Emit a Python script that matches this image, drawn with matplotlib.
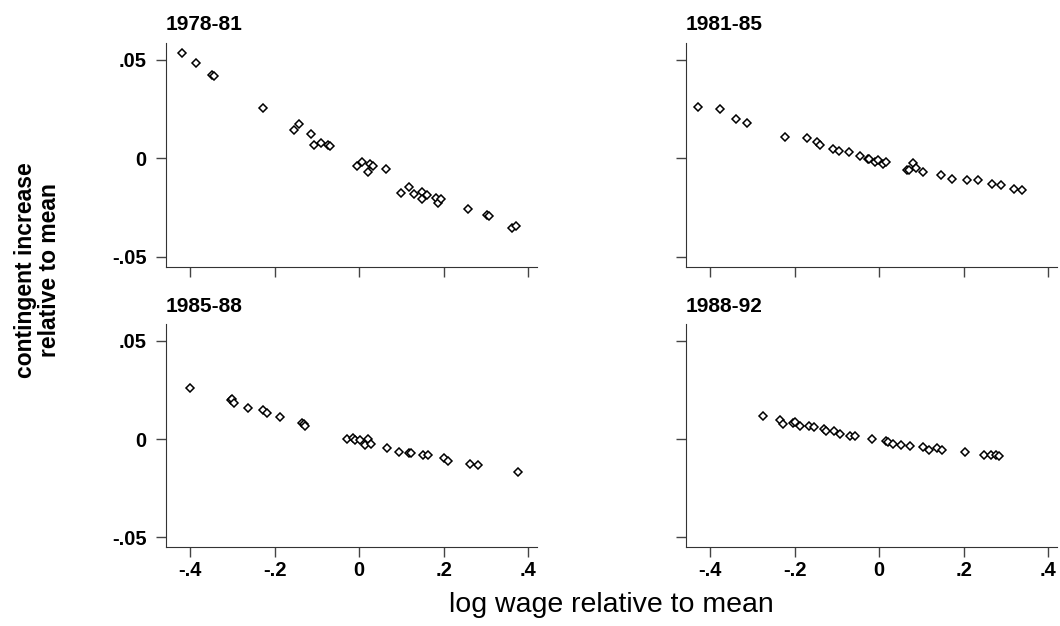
import matplotlib
matplotlib.use("Agg")
import matplotlib.pyplot as plt

# ============================================================
# Data
# ============================================================

PERIODS = ["1978-81", "1981-85", "1985-88", "1988-92"]

x_7881 = [-0.420, -0.387, -0.347, -0.344, -0.228, -0.154, -0.143, -0.113,
          -0.107, -0.089, -0.074, -0.070, -0.006, 0.006, 0.022, 0.025,
          0.032, 0.063, 0.098, 0.118, 0.131, 0.149, 0.150, 0.161,
          0.181, 0.186, 0.194, 0.257, 0.303, 0.307, 0.362, 0.372]
y_7881 = [0.0537, 0.0486, 0.0422, 0.0416, 0.0255, 0.0142, 0.0176, 0.0123,
          0.0068, 0.0078, 0.0068, 0.0064, -0.0037, -0.0019, -0.0071, -0.0030,
          -0.0041, -0.0054, -0.0176, -0.0144, -0.0179, -0.0172, -0.0206, -0.0186,
          -0.0203, -0.0225, -0.0206, -0.0257, -0.0287, -0.0294, -0.0355, -0.0341]

x_8185 = [-0.429, -0.377, -0.338, -0.312, -0.222, -0.170, -0.146, -0.141,
          -0.109, -0.095, -0.072, -0.046, -0.027, -0.025, -0.010, -0.002,
          0.010, 0.017, 0.067, 0.071, 0.081, 0.087, 0.104, 0.147,
          0.173, 0.208, 0.234, 0.266, 0.289, 0.319, 0.338]
y_8185 = [0.0263, 0.0253, 0.0198, 0.0181, 0.0110, 0.0102, 0.0085, 0.0068,
          0.0047, 0.0039, 0.0031, 0.0012, -0.0002, -0.0005, -0.0017, -0.0008,
          -0.0029, -0.0017, -0.0061, -0.0061, -0.0024, -0.0049, -0.0069, -0.0086,
          -0.0107, -0.0110, -0.0110, -0.0131, -0.0136, -0.0154, -0.0158]

x_8588 = [-0.400, -0.304, -0.301, -0.295, -0.264, -0.227, -0.217, -0.188,
          -0.136, -0.130, -0.128, -0.028, -0.015, -0.010, 0.001, 0.013,
          0.021, 0.029, 0.066, 0.095, 0.118, 0.123, 0.151, 0.163,
          0.202, 0.210, 0.263, 0.281, 0.375]
y_8588 = [0.0258, 0.0198, 0.0205, 0.0186, 0.0158, 0.0146, 0.0133, 0.0114,
          0.0084, 0.0074, 0.0064, 0.0002, 0.0003, -0.0007, -0.0007, -0.0029,
          0.0000, -0.0023, -0.0045, -0.0067, -0.0070, -0.0070, -0.0081, -0.0084,
          -0.0099, -0.0112, -0.0128, -0.0131, -0.0166]

x_8892 = [-0.274, -0.234, -0.228, -0.204, -0.199, -0.187, -0.165, -0.154,
          -0.130, -0.125, -0.108, -0.093, -0.069, -0.058, -0.016, 0.016,
          0.021, 0.032, 0.051, 0.073, 0.103, 0.117, 0.137, 0.148,
          0.204, 0.248, 0.264, 0.277, 0.283]
y_8892 = [0.0116, 0.0097, 0.0076, 0.0081, 0.0089, 0.0067, 0.0064, 0.0059,
          0.0049, 0.0040, 0.0040, 0.0023, 0.0017, 0.0017, 0.0002, -0.0010,
          -0.0013, -0.0023, -0.0029, -0.0035, -0.0042, -0.0054, -0.0047, -0.0055,
          -0.0067, -0.0082, -0.0082, -0.0084, -0.0089]

X_TICKS = [-0.4, -0.2, 0.0, 0.2, 0.4]
X_TICK_LABELS = ["-.4", "-.2", "0", ".2", ".4"]
Y_TICKS = [-0.05, 0.0, 0.05]
Y_TICK_LABELS = ["-.05", "0", ".05"]

SERIES = [(x_7881, y_7881), (x_8185, y_8185), (x_8588, y_8588), (x_8892, y_8892)]

# ============================================================
# Figure
# ============================================================

plt.rcParams["font.family"] = ["Liberation Sans", "DejaVu Sans"]

fig = plt.figure(figsize=(10.6, 6.26), dpi=100)

# axes boxes in figure fraction: left, bottom, width, height
boxes = [
    [0.1566, 0.5735, 0.350, 0.358],
    [0.6472, 0.5735, 0.350, 0.358],
    [0.1566, 0.1262, 0.350, 0.356],
    [0.6472, 0.1262, 0.350, 0.356],
]

for i, (box, period, (xs, ys)) in enumerate(zip(boxes, PERIODS, SERIES)):
    ax = fig.add_axes(box)

    ax.plot(xs, ys, linestyle="none", marker="D", markersize=4.3,
            markerfacecolor="white", markeredgecolor="black",
            markeredgewidth=1.1)

    ax.set_xlim(-0.457, 0.421)
    ax.set_ylim(-0.0551, 0.0586)

    ax.spines["top"].set_visible(False)
    ax.spines["right"].set_visible(False)
    ax.spines["left"].set_color("#333333")
    ax.spines["bottom"].set_color("#333333")

    ax.set_xticks(X_TICKS)
    ax.set_yticks(Y_TICKS)

    ax.tick_params(axis="both", direction="out", length=7, width=1.0,
                   color="#444444")
    ax.tick_params(axis="x", pad=3)
    ax.tick_params(axis="y", pad=7)

    if i >= 2:
        ax.set_xticklabels(X_TICK_LABELS, fontsize=14.5, fontweight="bold")
    else:
        ax.set_xticklabels([])

    if i % 2 == 0:
        ax.set_yticklabels(Y_TICK_LABELS, fontsize=14.5, fontweight="bold")
    else:
        ax.set_yticklabels([])

    ax.set_title(period, loc="left", fontsize=15, fontweight="bold", pad=9)

fig.text(0.035, 0.568, "contingent increase\nrelative to mean",
         rotation=90, ha="center", va="center", fontsize=16.5,
         fontweight="bold", linespacing=1.05)

fig.text(0.577, 0.033, "log wage relative to mean",
         ha="center", va="center", fontsize=20.5)

fig.savefig("out.png", dpi=100)
